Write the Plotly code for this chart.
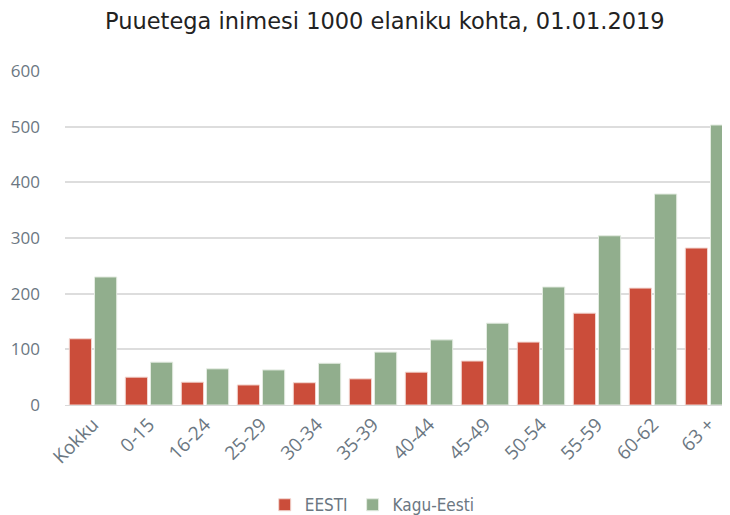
import plotly.graph_objects as go

categories = ["Kokku", "0-15", "16-24", "25-29", "30-34", "35-39", "40-44",
              "45-49", "50-54", "55-59", "60-62", "63 +"]
eesti = [119, 50, 41, 36, 40, 47, 59, 79, 113, 165, 210, 282]
kagu_eesti = [230, 77, 65, 63, 75, 95, 117, 147, 212, 304, 379, 503]
y_ticks = [0, 100, 200, 300, 400, 500, 600]

RED = "#CB4D3A"
GREEN = "#91AE8D"
TICK = "#6B7782"
FONT = "'Open Sans', Lato, sans-serif"
TITLE_FONT = "'DejaVu Sans', 'Open Sans', sans-serif"
LEGEND_FONT = "'Liberation Sans Narrow', 'DejaVu Sans Condensed', 'Open Sans', sans-serif"

fig = go.Figure()
fig.add_trace(go.Bar(name="EESTI", x=categories, y=eesti,
                     marker=dict(color=RED, line=dict(color="#F2D6D0", width=1))))
fig.add_trace(go.Bar(name="Kagu-Eesti", x=categories, y=kagu_eesti,
                     marker=dict(color=GREEN, line=dict(color="#E3EBE1", width=1))))

fig.update_layout(
    width=722, height=507,
    margin=dict(l=57, r=0, t=63, b=110, autoexpand=False),
    paper_bgcolor="white", plot_bgcolor="white",
    barmode="group", bargap=0.1, bargroupgap=0.12,
    font=dict(family=FONT, color=TICK),
    title=dict(text="Puuetega inimesi 1000 elaniku kohta, 01.01.2019",
               x=0.522, xanchor="center", y=0.975, yanchor="middle",
               font=dict(size=22.5, color="#222222", family=TITLE_FONT)),
    legend=dict(orientation="h", x=0.462, xanchor="center", y=-0.30, yanchor="middle",
                font=dict(size=17, color=TICK, family=LEGEND_FONT),
                itemwidth=30, traceorder="normal"),
    showlegend=True,
)
fig.update_xaxes(range=[-0.5, 11.375], tickangle=-45, tickfont=dict(size=19, color=TICK),
                 showgrid=False, showline=True, linecolor="#D9D9D9", linewidth=1,
                 ticks="", fixedrange=True, automargin=False)
fig.update_yaxes(range=[0, 600], tickvals=y_ticks, tickfont=dict(size=17, color=TICK),
                 showgrid=True, gridcolor="#DDDDDD", gridwidth=1.5,
                 zeroline=False, ticks="", ticklabelstandoff=24, fixedrange=True,
                 automargin=False)

fig.write_html("out.html")
